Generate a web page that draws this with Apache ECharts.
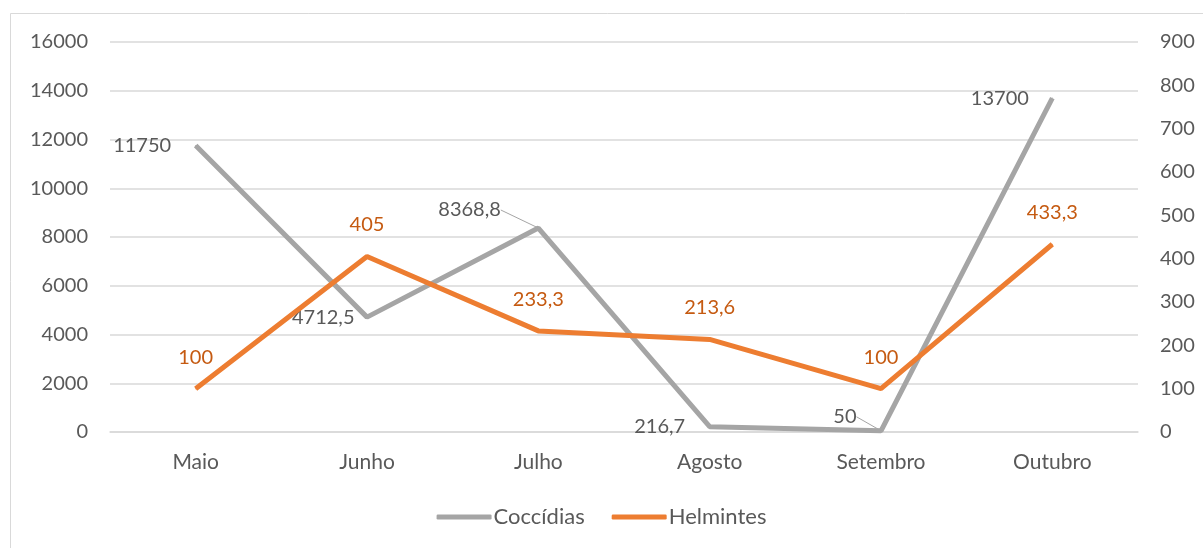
<!DOCTYPE html>
<html>
<head>
<meta charset="utf-8">
<script src="https://cdn.jsdelivr.net/npm/echarts@6/dist/echarts.min.js"></script>
<style>
  html, body { margin: 0; padding: 0; background: #fff; }
  #chart { width: 1203px; height: 548px; }
</style>
</head>
<body>
<div id="chart"></div>
<script>
var meses = ['Maio', 'Junho', 'Julho', 'Agosto', 'Setembro', 'Outubro'];
var coccidias = [11750, 4712.5, 8368.8, 216.7, 50, 13700];
var helmintes = [100, 405, 233.3, 213.6, 100, 433.3];
var ticksEsq = [0, 16000, 2000];
var ticksDir = [0, 900, 100];

// formato com virgula decimal
function fmt(v) {
  return String(v).replace('.', ',');
}

var chart = echarts.init(document.getElementById('chart'));
var fonte = 'Lato';
var cinzaTxt = '#595959';
var tamNum = 20;
var tamTxt = 21;

// deslocamento dos rotulos das coccidias e se tem linha guia
var rotC = [
  { dist: 24, off: [0, 1], guia: false },
  { dist: 12, off: [0, 11], guia: false },
  { dist: 37, off: [0, -18], guia: true },
  { dist: 24, off: [0, 2], guia: false },
  { dist: 24, off: [0, -14], guia: true },
  { dist: 23, off: [0, 3], guia: false }
];

var dadosC = coccidias.map(function (v, i) {
  return {
    value: v,
    label: { distance: rotC[i].guia ? 0 : rotC[i].dist, offset: rotC[i].guia ? [0, 0] : rotC[i].off },
    labelLine: { show: rotC[i].guia }
  };
});

var option = {
  backgroundColor: '#fff',
  animation: false,
  textStyle: { fontFamily: fonte },
  graphic: [{
    type: 'rect',
    shape: { x: 10.5, y: 13.5, width: 1210, height: 560 },
    style: { fill: 'none', stroke: '#d9d9d9', lineWidth: 1 },
    silent: true
  }],
  grid: { left: 110, right: 65, top: 42, bottom: 116 },
  legend: {
    bottom: 15,
    left: 'center',
    icon: 'roundRect',
    itemWidth: 55,
    itemHeight: 5,
    itemGap: 27,
    textStyle: { fontFamily: fonte, fontSize: 22, color: cinzaTxt, padding: [0, 0, 0, -3] },
    data: ['Coccídias', 'Helmintes']
  },
  xAxis: {
    type: 'category',
    data: meses,
    boundaryGap: true,
    axisLine: { lineStyle: { color: '#d9d9d9', width: 1.5 } },
    axisTick: { show: false },
    axisLabel: { color: cinzaTxt, fontSize: tamTxt, fontFamily: fonte, margin: 20 }
  },
  yAxis: [{
    type: 'value',
    min: ticksEsq[0], max: ticksEsq[1], interval: ticksEsq[2],
    axisLine: { show: false },
    axisTick: { show: false },
    axisLabel: { color: cinzaTxt, fontSize: tamNum, fontFamily: fonte, margin: 22, formatter: function (v) { return String(v); } },
    splitLine: { lineStyle: { color: '#d9d9d9', width: 1.5 } }
  }, {
    type: 'value',
    min: ticksDir[0], max: ticksDir[1], interval: ticksDir[2],
    axisLine: { show: false },
    axisTick: { show: false },
    axisLabel: { color: cinzaTxt, fontSize: tamNum, fontFamily: fonte, margin: 22, formatter: function (v) { return String(v); } },
    splitLine: { show: false }
  }],
  series: [{
    name: 'Coccídias',
    type: 'line',
    yAxisIndex: 0,
    data: dadosC,
    symbol: 'circle',
    symbolSize: 1,
    showSymbol: true,
    lineStyle: { color: '#a5a5a5', width: 5 },
    itemStyle: { color: '#a5a5a5' },
    label: {
      show: true,
      position: 'left',
      color: cinzaTxt,
      fontSize: tamNum,
      fontFamily: fonte,
      formatter: function (p) { return fmt(p.value); }
    },
    labelLine: { show: false, lineStyle: { color: '#a5a5a5', width: 1 } },
    labelLayout: function (p) {
      var r = rotC[p.dataIndex];
      if (!r.guia) return {};
      return { dx: -r.dist, dy: r.off[1] };
    },
    z: 2
  }, {
    name: 'Helmintes',
    type: 'line',
    yAxisIndex: 1,
    data: helmintes,
    symbol: 'circle',
    symbolSize: 1,
    showSymbol: true,
    lineStyle: { color: '#ed7d31', width: 5 },
    itemStyle: { color: '#ed7d31' },
    label: {
      show: true,
      position: 'top',
      distance: 21,
      color: '#c55a11',
      fontSize: tamNum,
      fontFamily: fonte,
      formatter: function (p) { return fmt(p.value); }
    },
    z: 3
  }]
};
chart.setOption(option);
</script>
</body>
</html>
